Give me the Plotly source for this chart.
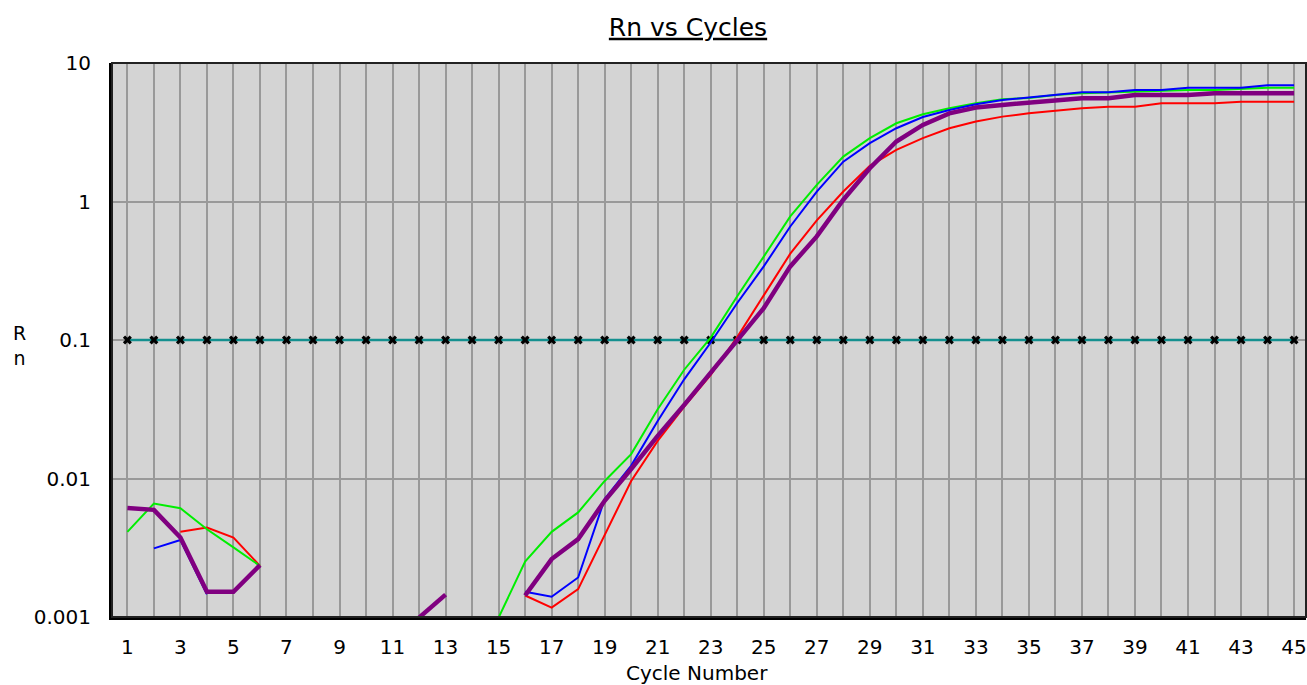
import plotly.graph_objects as go

# ---- data ----
cycles = list(range(1, 46))
x_tick_labels = [str(c) if c % 2 == 1 else "" for c in cycles]

y_tick_vals = [0.001, 0.01, 0.1, 1, 10]
y_tick_labels = ["0.001", "0.01", "0.1", "1", "10"]

threshold = 0.1

N = None
green = [0.00412, 0.0066, 0.0061, 0.0043, 0.00318, 0.00234, N, N, N, N,
         N, N, N, N, 0.00099, 0.00251, 0.00412, 0.00569, 0.0096, 0.015,
         0.0316, 0.061, 0.104, 0.207, 0.40, 0.78, 1.32, 2.11, 2.87, 3.67,
         4.27, 4.72, 5.13, 5.48, 5.60, 5.87, 6.05, 6.15, 6.21, 6.30,
         6.39, 6.39, 6.53, 6.63, 6.63]

red = [N, N, 0.00412, 0.00443, 0.00375, 0.00234, N, N, N, N,
       N, N, N, N, N, 0.00143, 0.00117, 0.00159, 0.00386, 0.0096,
       0.0187, 0.033, 0.056, 0.105, 0.21, 0.42, 0.73, 1.18, 1.81, 2.36,
       2.87, 3.38, 3.78, 4.10, 4.33, 4.53, 4.71, 4.84, 4.84, 5.13,
       5.13, 5.13, 5.26, 5.26, 5.26]

blue = [N, 0.00313, 0.0036, 0.00146, N, N, N, N, N, N,
        N, N, N, N, N, 0.00152, 0.0014, 0.00193, 0.0071, 0.0124,
        0.026, 0.052, 0.096, 0.185, 0.34, 0.66, 1.18, 1.94, 2.64, 3.38,
        4.07, 4.58, 5.03, 5.41, 5.66, 5.95, 6.15, 6.15, 6.39, 6.39,
        6.63, 6.63, 6.63, 6.90, 6.90]

purple = [0.00613, 0.00594, 0.00375, 0.00152, 0.00152, 0.00237, N, N, N, N,
          N, 0.00099, 0.00145, N, N, 0.00143, 0.00262, 0.00365, 0.0069, 0.0117,
          0.0203, 0.034, 0.058, 0.097, 0.17, 0.34, 0.56, 1.03, 1.74, 2.71,
          3.57, 4.33, 4.77, 4.98, 5.15, 5.35, 5.57, 5.57, 5.87, 5.87,
          5.87, 6.05, 6.05, 6.05, 6.05]

FONT = "DejaVu Sans"

fig = go.Figure()

fig.add_trace(go.Scatter(x=cycles, y=[threshold] * len(cycles), mode="lines+markers",
                         line=dict(color="#14908f", width=2.5),
                         marker=dict(symbol="x", size=8, color="black"),
                         showlegend=False, hoverinfo="skip"))

for ys, col, w in [(red, "#ff0000", 2), (green, "#00ee00", 2),
                   (blue, "#0000ff", 2), (purple, "#800080", 4.5)]:
    fig.add_trace(go.Scatter(x=cycles, y=ys, mode="lines",
                             line=dict(color=col, width=w),
                             connectgaps=False, showlegend=False))

fig.update_layout(
    width=1307, height=685,
    margin=dict(l=112, r=1, t=63, b=68),
    paper_bgcolor="white",
    plot_bgcolor="#d4d4d4",
    title=dict(text="<u>Rn vs Cycles</u>", font=dict(family=FONT, size=25, color="black"),
               x=688 / 1307, xanchor="center", xref="container",
               y=1 - 27 / 685, yanchor="middle", yref="container"),
    xaxis=dict(range=[0.42, 45.45], tickmode="array", tickvals=cycles, ticktext=x_tick_labels,
               showgrid=True, gridcolor="#999999", gridwidth=2, zeroline=False,
               showline=True, linecolor="black", linewidth=3,
               ticks="outside", ticklen=10, tickcolor="rgba(0,0,0,0)",
               tickfont=dict(family=FONT, size=20, color="black")),
    yaxis=dict(type="log", range=[-3, 1], tickmode="array", tickvals=y_tick_vals,
               ticktext=y_tick_labels,
               showgrid=True, gridcolor="#999999", gridwidth=2, zeroline=False,
               showline=True, linecolor="black", linewidth=3,
               ticks="outside", ticklen=14, tickcolor="rgba(0,0,0,0)",
               tickfont=dict(family=FONT, size=20, color="black")),
    shapes=[dict(type="rect", xref="paper", yref="paper", x0=0, x1=1, y0=0, y1=1,
                 line=dict(color="#222222", width=2), layer="above")],
    annotations=[
        dict(text="Cycle Number", xref="paper", yref="paper",
             x=(697 - 112) / 1194, y=-(673 - 617) / 554, xanchor="center", yanchor="middle",
             showarrow=False, font=dict(family=FONT, size=20, color="black")),
        dict(text="R<br>n", xref="paper", yref="paper",
             x=(19 - 112) / 1194, y=(617 - 346) / 554, xanchor="center", yanchor="middle",
             showarrow=False, font=dict(family=FONT, size=19, color="black")),
    ],
)

fig.write_html("out.html", config={"displayModeBar": False},
               post_script="document.body.style.margin='0px';document.body.style.overflow='hidden';")
